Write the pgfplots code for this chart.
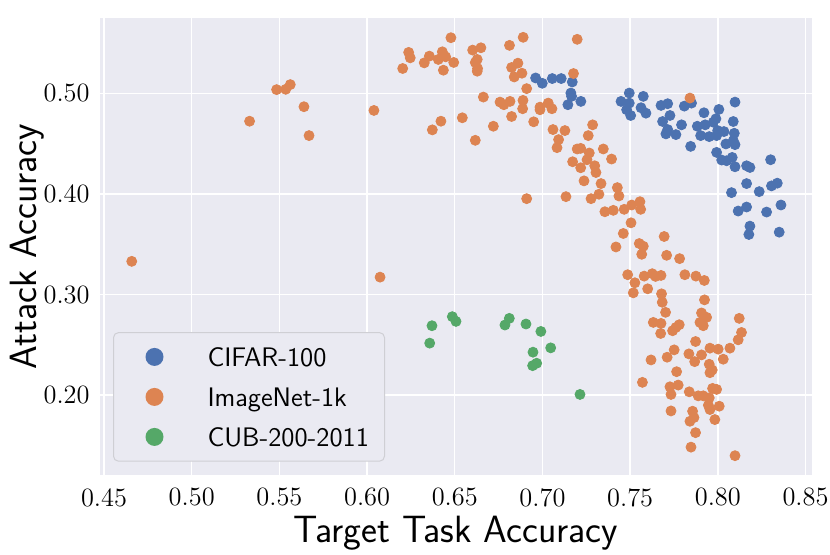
\documentclass[border=0pt]{standalone}
\usepackage{pgfplots}
\pgfplotsset{compat=1.18}
\definecolor{bgc}{HTML}{EAEAF2}
\definecolor{cblue}{HTML}{4C72B0}
\definecolor{corange}{HTML}{DD8452}
\definecolor{cgreen}{HTML}{55A868}
\definecolor{legedge}{HTML}{CFCFD4}
\begin{document}
\begin{tikzpicture}
\begin{axis}[
  at={(50pt,39.5pt)}, anchor=south west,
  scale only axis, width=356pt, height=228.5pt,
  xmin=0.4477, xmax=0.8537, ymin=0.1206, ymax=0.5749,
  axis background/.style={fill=bgc},
  axis line style={draw=none},
  grid=major, grid style={white, line width=0.7pt},
  major tick length=0pt,
  xtick={0.45,0.50,0.55,0.60,0.65,0.70,0.75,0.80,0.85},
  ytick={0.2,0.3,0.4,0.5},
  xticklabel style={font=\fontsize{13.2}{15}\selectfont, inner sep=0pt, anchor=north, yshift=-6.5pt},
  yticklabel style={font=\fontsize{13.2}{15}\selectfont, inner sep=0pt, anchor=east, xshift=-5pt},
  /pgf/number format/.cd, fixed, fixed zerofill, precision=2, assume math mode=true, /pgfplots/.cd,
  xlabel={Target Task Accuracy},
  ylabel={Attack Accuracy},
  xlabel style={at={(axis description cs:0.5,-0.1466)}, anchor=base, font=\sffamily\fontsize{19}{22}\selectfont},
  ylabel style={at={(axis description cs:-0.0889,0.5)}, anchor=base, font=\sffamily\fontsize{19}{22}\selectfont},
  legend style={at={(axis description cs:0.01826,0.0291)}, anchor=south west,
    fill=bgc, draw=legedge, line width=0.5pt, rounded corners=2.5pt,
    inner xsep=0pt, inner ysep=2.15pt,
    font=\sffamily\fontsize{13.4}{15}\selectfont,
    nodes={inner sep=0pt, text height=9.3pt, text depth=0pt, text width=88.5pt, align=left},
    cells={anchor=west}},
  legend cell align=left,
  legend image code/.code={\path[draw=none,fill=none] (-20.5pt,-10pt) rectangle (26.5pt,10pt); \fill[draw=none] (0pt,0pt) circle (4.5pt);},
]
\addplot[only marks, mark=*, mark size=2.5pt, cblue] table {
0.6961 0.5153
0.6999 0.5100
0.7056 0.5147
0.7107 0.5147
0.7170 0.5113
0.7162 0.5003
0.7166 0.4970
0.7145 0.4887
0.7219 0.4920
0.7495 0.5003
0.7448 0.4920
0.7495 0.4903
0.7480 0.4837
0.7503 0.4780
0.7575 0.4970
0.7562 0.4857
0.7590 0.4803
0.7676 0.4880
0.7714 0.4897
0.7727 0.4780
0.7685 0.4720
0.7714 0.4640
0.7704 0.4597
0.7761 0.4590
0.7793 0.4687
0.7809 0.4873
0.7850 0.4903
0.7845 0.4473
0.7921 0.4807
0.7883 0.4673
0.7928 0.4687
0.7902 0.4580
0.7951 0.4570
0.7974 0.4713
0.7989 0.4747
0.8006 0.4840
0.7999 0.4630
0.7993 0.4580
0.8035 0.4620
0.8098 0.4913
0.8088 0.4720
0.8094 0.4603
0.8088 0.4530
0.8046 0.4497
0.8098 0.4490
0.7993 0.4413
0.8022 0.4337
0.8050 0.4330
0.8082 0.4363
0.8098 0.4270
0.8164 0.4280
0.8183 0.4263
0.8301 0.4340
0.8164 0.4103
0.8236 0.4023
0.8306 0.4080
0.8339 0.4107
0.8078 0.4013
0.8116 0.3830
0.8164 0.3870
0.8278 0.3820
0.8360 0.3890
0.8183 0.3680
0.8177 0.3597
0.8350 0.3620
};
\addlegendentry{CIFAR-100}
\addplot[only marks, mark=*, mark size=2.5pt, corange] table {
0.5484 0.5037
0.5536 0.5040
0.5562 0.5087
0.5640 0.4867
0.5330 0.4723
0.5669 0.4580
0.6039 0.4830
0.4658 0.3330
0.6074 0.3173
0.6478 0.5553
0.6237 0.5407
0.6246 0.5353
0.6203 0.5247
0.6326 0.5303
0.6355 0.5370
0.6406 0.5337
0.6429 0.5413
0.6448 0.5363
0.6435 0.5230
0.6494 0.5307
0.6602 0.5430
0.6649 0.5453
0.6628 0.5337
0.6617 0.5307
0.6630 0.5247
0.6628 0.5220
0.6812 0.5477
0.6890 0.5557
0.7198 0.5537
0.6860 0.5300
0.6824 0.5257
0.6883 0.5200
0.6839 0.5163
0.6910 0.5047
0.7177 0.5197
0.6663 0.4963
0.6758 0.4913
0.6780 0.4887
0.6815 0.4920
0.6889 0.4930
0.6887 0.4847
0.6986 0.4863
0.6986 0.4837
0.7033 0.4903
0.7054 0.4847
0.6421 0.4723
0.6372 0.4637
0.6543 0.4757
0.6720 0.4673
0.6824 0.4770
0.6950 0.4717
0.6617 0.4533
0.7060 0.4640
0.7128 0.4630
0.7286 0.4687
0.7261 0.4580
0.7092 0.4540
0.7083 0.4460
0.7198 0.4447
0.7218 0.4453
0.7267 0.4407
0.7172 0.4320
0.7254 0.4340
0.7218 0.4260
0.7298 0.4280
0.7305 0.4213
0.7841 0.4953
0.7347 0.4447
0.7394 0.4347
0.7237 0.4130
0.7334 0.4103
0.7427 0.4063
0.7436 0.3980
0.7322 0.3997
0.7277 0.3953
0.7356 0.3823
0.7404 0.3837
0.7466 0.3847
0.7509 0.3890
0.7556 0.3923
0.7560 0.3847
0.7505 0.3713
0.7461 0.3607
0.7694 0.3577
0.7419 0.3473
0.7552 0.3507
0.7575 0.3480
0.6910 0.3953
0.7134 0.3973
0.7566 0.3400
0.7708 0.3390
0.7782 0.3357
0.7486 0.3197
0.7527 0.3117
0.7518 0.3017
0.7600 0.3057
0.7580 0.3183
0.7626 0.3207
0.7645 0.3180
0.7676 0.3190
0.7812 0.3197
0.7875 0.3183
0.7923 0.3140
0.7679 0.3007
0.7683 0.2923
0.7702 0.2823
0.7924 0.2947
0.7907 0.2817
0.7936 0.2773
0.7898 0.2723
0.7917 0.2690
0.8122 0.2763
0.8135 0.2623
0.8116 0.2550
0.7632 0.2723
0.7676 0.2713
0.7674 0.2613
0.7742 0.2640
0.7780 0.2700
0.7761 0.2673
0.7873 0.2533
0.7751 0.2450
0.7711 0.2377
0.7835 0.2410
0.7907 0.2400
0.7955 0.2467
0.8002 0.2457
0.8069 0.2467
0.8031 0.2357
0.7619 0.2350
0.7570 0.2127
0.7868 0.2333
0.7951 0.2307
0.7968 0.2250
0.7955 0.2223
0.7765 0.2233
0.7727 0.2083
0.7774 0.2100
0.7733 0.2007
0.7837 0.2033
0.7888 0.1993
0.7917 0.1993
0.7951 0.1973
0.7970 0.2067
0.7993 0.2057
0.7946 0.1900
0.7955 0.1857
0.8008 0.1890
0.7733 0.1843
0.7856 0.1840
0.7864 0.1777
0.7841 0.1740
0.7983 0.1757
0.7873 0.1627
0.7847 0.1483
0.8098 0.1398
};
\addlegendentry{ImageNet-1k}
\addplot[only marks, mark=*, mark size=2.5pt, cgreen] table {
0.6370 0.2690
0.6357 0.2517
0.6486 0.2780
0.6507 0.2733
0.6811 0.2763
0.6786 0.2697
0.6906 0.2707
0.6991 0.2633
0.7047 0.2470
0.6946 0.2427
0.6967 0.2317
0.6944 0.2293
0.7214 0.2007
};
\addlegendentry{CUB-200-2011}
\end{axis}
\pgfresetboundingbox
\useasboundingbox (0pt,0pt) rectangle (415pt,277pt);
\end{tikzpicture}
\end{document}
